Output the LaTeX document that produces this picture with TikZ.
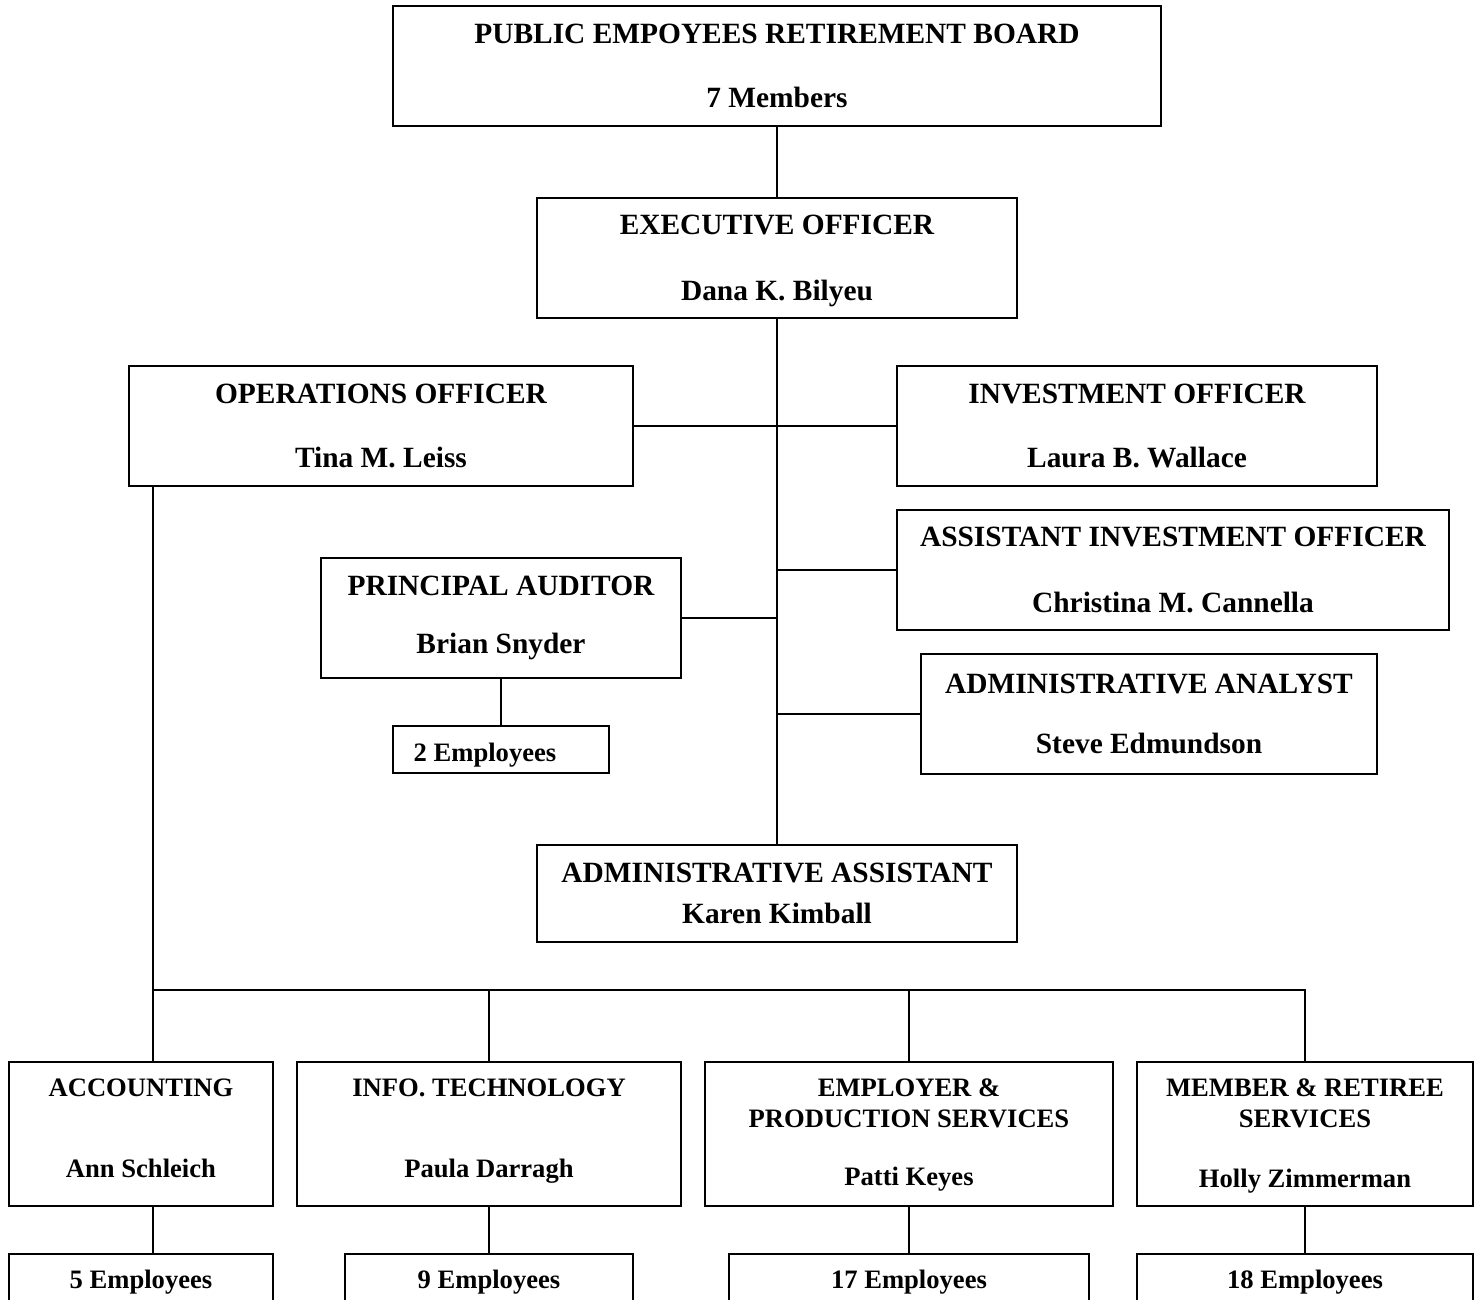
\documentclass[tikz,border=0pt]{standalone}
\usepackage{fontspec}
\setmainfont{Liberation Serif}
\begin{document}
\begin{tikzpicture}[
  x=0.5pt, y=-0.5pt,
  every node/.style={font=\fontsize{14.7}{17.6}\selectfont\bfseries, draw, rectangle, line width=1pt, inner sep=0pt, align=center, minimum height=60pt},
  unit/.style={font=\fontsize{13.3}{15.6}\selectfont\bfseries, minimum height=72pt},
  staff/.style={font=\fontsize{13.3}{15.6}\selectfont\bfseries, minimum height=28pt},
  line/.style={line width=0.8pt},
  -, >=stealth
]
\useasboundingbox (0,0) rectangle (1479,1300);

\node[minimum width=384pt, text depth=-2pt] (board) at (777,66) {PUBLIC EMPOYEES RETIREMENT BOARD\\[14.5pt]7 Members};
\node[minimum width=240pt, text depth=-2pt] (exec) at (777,258) {EXECUTIVE OFFICER\\[15.5pt]Dana K. Bilyeu};
\node[minimum width=252pt] (ops) at (381,426) {OPERATIONS OFFICER\\[14pt]Tina M. Leiss};
\node[minimum width=240pt] (inv) at (1137,426) {INVESTMENT OFFICER\\[14pt]Laura B. Wallace};
\node[minimum width=276pt] (asstinv) at (1173,570) {ASSISTANT INVESTMENT OFFICER\\[15.5pt]Christina M. Cannella};
\node[minimum width=180pt] (auditor) at (501,618) {PRINCIPAL AUDITOR\\[11pt]Brian Snyder};
\node[staff, minimum width=108pt, minimum height=23.5pt, text height=12.4pt, text depth=0pt] (audemp) at (501,749.5) {2 Employees\hspace*{16pt}};
\node[minimum width=228pt] (analyst) at (1149,714) {ADMINISTRATIVE ANALYST\\[12.5pt]Steve Edmundson};
\node[minimum width=240pt, minimum height=48.5pt] (asst) at (777,893.5) {ADMINISTRATIVE ASSISTANT\\[3pt]Karen Kimball};

\node[unit, minimum width=132pt, text depth=5.5pt] (acct) at (141,1134) {ACCOUNTING\\[25pt]Ann Schleich};
\node[unit, minimum width=192pt, text depth=5.5pt] (it) at (489,1134) {INFO. TECHNOLOGY\\[25pt]Paula Darragh};
\node[unit, minimum width=204pt, text depth=2pt] (emp) at (909,1134) {EMPLOYER \&\\PRODUCTION SERVICES\\[13pt]Patti Keyes};
\node[unit, minimum width=168pt, text depth=0.5pt] (mbr) at (1305,1134) {MEMBER \& RETIREE\\SERVICES\\[14.4pt]Holly Zimmerman};

\node[staff, minimum width=132pt] (acctemp) at (141,1282) {5 Employees};
\node[staff, minimum width=144pt] (itemp) at (489,1282) {9 Employees};
\node[staff, minimum width=180pt] (empemp) at (909,1282) {17 Employees};
\node[staff, minimum width=168pt] (mbremp) at (1305,1282) {18 Employees};

\coordinate (bus) at (153,990);

\draw[line] (board) -- (exec);
\draw[line] (exec) -- (asst);
\draw[line] (ops) -- (inv);
\draw[line] (asstinv.west) -- (asstinv.west -| exec.south);
\draw[line] (auditor.east) -- (auditor.east -| exec.south);
\draw[line] (analyst.west) -- (analyst.west -| exec.south);
\draw[line] (auditor) -- (audemp);

\draw[line] (ops.south -| bus) -- (acct.north -| bus);
\draw[line] (bus) -| (mbr.north);
\draw[line] (bus -| it.north) -- (it.north);
\draw[line] (bus -| emp.north) -- (emp.north);

\draw[line] (acct.south -| bus) -- (acctemp.north -| bus);
\draw[line] (it) -- (itemp);
\draw[line] (emp) -- (empemp);
\draw[line] (mbr) -- (mbremp);
\end{tikzpicture}
\end{document}
